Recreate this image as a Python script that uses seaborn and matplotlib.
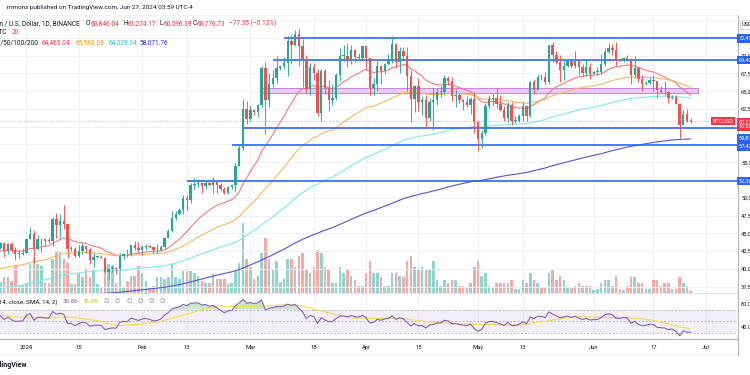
import numpy as np
import pandas as pd
import matplotlib
matplotlib.use("Agg")
import matplotlib.pyplot as plt
import matplotlib.transforms as mtransforms
from matplotlib.patches import Rectangle
from matplotlib.lines import Line2D
import seaborn as sns

sns.set_theme(style="white")
plt.rcParams["font.family"] = ["Roboto", "DejaVu Sans"]

# ---------------- data ----------------
start_date = "2023-12-25"
first_open = 42990.0

closes = [
    43580, 42520, 43440, 42580, 42070, 42140, 42280,
    44180, 44950, 42850, 44150, 44160, 43970, 43930, 46970, 46120, 46660,
    46340, 42780, 42840, 41730, 42510, 43150, 42740, 41260, 41620, 41660,
    41580, 39570, 39900, 40080, 39930, 41820, 42120, 42030, 43300, 42940, 42580,
    43080, 43190, 43000, 42580, 42700, 43090, 44340, 45290, 47130, 47750,
    48290, 49960, 49700, 51810, 51930, 52140, 51660, 52120, 51780, 52280,
    51840, 51300, 50730, 51570, 51730, 54480, 57040, 62430, 61130,
    62390, 62030, 63130, 68250, 63720, 66070, 66810, 68300, 68500, 69000,
    72120, 71480, 73080, 71390, 69500, 65300, 68390, 67550, 61910, 67910,
    65490, 63780, 64060, 67230, 69960, 69990, 69450, 70740, 69890, 69650, 71330,
    69700, 65460, 65960, 68500, 67840, 68900, 69360, 71620, 69150, 70630,
    70000, 67110, 63900, 65740, 63420, 63790, 61280, 63470, 63820, 64940,
    64940, 66840, 66410, 64280, 64500, 63770, 63460, 63120, 63840, 60640,
    58250, 59120, 62890, 63890, 64030, 63160, 62310, 61190, 63070, 60790,
    60800, 61450, 62900, 61550, 66250, 65230, 67050, 66940, 66270, 71450,
    70140, 69120, 67930, 68530, 69280, 68500, 69390, 68360, 67630, 68350, 67490,
    67710, 67750, 68800, 70570, 71080, 70790, 69360, 69310, 69650, 69510,
    67320, 68240, 66750, 66010, 66190, 66640, 66490, 65140, 64960, 64830,
    64100, 64260, 63180, 60280, 61800, 60846.04, 60776.73,
]
highs = [
    43800, 43600, 43680, 43790, 43120, 42600, 42900,
    44200, 45900, 45500, 44770, 44340, 44190, 44490, 47250, 47890, 47700,
    48970, 46500, 43260, 43070, 43400, 43580, 43200, 42930, 42200, 41870,
    41880, 41700, 40140, 40550, 40280, 42230, 42200, 42840, 43320, 43880, 43740,
    43290, 43480, 43380, 43120, 43530, 43400, 44500, 45600, 48200, 48170,
    48590, 50330, 50370, 52040, 52820, 52580, 52230, 52400, 52490, 52980,
    52370, 52040, 51550, 51700, 51950, 54910, 57590, 63930, 63680,
    63120, 62480, 63230, 68530, 69170, 67640, 67980, 69900, 68670, 69850,
    72800, 72950, 73650, 73780, 72420, 70050, 68920, 68930, 68100, 68100,
    68200, 66650, 65970, 67620, 71150, 71560, 71730, 71550, 70910, 70330, 71370,
    71340, 69700, 66910, 69290, 68720, 69000, 70280, 72720, 71750, 71170,
    71260, 71230, 67930, 65840, 66870, 64360, 64470, 64100, 65450, 65400,
    65700, 67230, 67200, 67070, 65270, 64800, 63920, 64360, 64220, 64750,
    60780, 59600, 63320, 64500, 64650, 65500, 64420, 62990, 63420, 63450,
    61500, 61820, 63450, 63100, 66440, 66700, 67450, 67400, 67700, 71520,
    71980, 70630, 70100, 69230, 69570, 69510, 70600, 69560, 68900, 69500, 69000,
    67860, 68400, 70280, 71060, 71760, 71620, 71990, 69580, 69850, 70150,
    69560, 69980, 68440, 67300, 66450, 66980, 67250, 66500, 65730, 66480,
    65070, 64520, 64500, 63370, 62290, 62480, 61274.17,
]
lows = [
    42720, 41650, 42100, 42300, 41300, 41520, 41960,
    42180, 44170, 40750, 42630, 42300, 43400, 43590, 43200, 44300, 44350,
    45600, 41500, 42430, 41720, 41720, 42050, 42200, 40680, 40280, 41450,
    41450, 39440, 38550, 39490, 39250, 39830, 41400, 41630, 41800, 42690, 42280,
    41880, 42580, 42880, 42220, 42260, 42570, 42790, 44330, 45240, 46800,
    47550, 47710, 48300, 49300, 51280, 51560, 50600, 51300, 51690, 50620,
    50630, 50890, 50520, 50570, 51270, 50900, 54420, 56700, 60360,
    60780, 61650, 61320, 62770, 59000, 62790, 65600, 66100, 68040, 68120,
    67190, 68850, 71330, 68560, 65600, 64780, 64530, 66600, 61500, 60770,
    64550, 62260, 63000, 63800, 66380, 69220, 68380, 68900, 69080, 69500, 69600,
    68130, 64490, 64500, 65060, 66000, 67440, 68700, 69040, 68210, 67520,
    69560, 65090, 60660, 62130, 62270, 61620, 59770, 60800, 59600, 63100,
    64230, 64500, 65810, 63600, 62790, 63330, 62400, 62810, 61800, 59100,
    56550, 56940, 58850, 62590, 62880, 62700, 62230, 60880, 60650, 60190,
    60490, 60630, 60750, 60830, 61330, 64600, 65110, 66600, 65860, 66060,
    69160, 68800, 66300, 66630, 68480, 68220, 68240, 67280, 67100, 67130, 66670,
    67390, 67250, 67610, 68560, 70380, 70120, 68500, 69200, 69150, 69230,
    66050, 66900, 66300, 65080, 65850, 66040, 65100, 64060, 64700, 64500,
    63380, 63950, 63180, 58400, 60230, 60720, 60596.39,
]
volumes = [
    20, 27, 27, 21, 47, 14, 14,
    17, 50, 61, 50, 47, 17, 17, 59, 73, 73, 59, 52, 15, 15, 35, 28, 44, 27,
    41, 15, 9, 41, 50, 47, 17, 56, 9, 21, 30, 30, 47,
    35, 21, 9, 12, 27, 27, 24, 27, 50, 27, 24, 38, 38, 38, 35, 30, 21, 17,
    17, 33, 24, 24, 24, 15, 17, 38, 53, 121, 59,
    45, 25, 30, 70, 95, 60, 40, 55, 20, 25, 60, 60, 45, 65, 70, 40, 35, 45,
    75, 70, 45, 40, 18, 18, 45, 35, 40, 30, 22, 13, 13,
    35, 55, 35, 35, 28, 13, 13, 35, 35, 30, 27, 55, 65, 45, 40, 45, 40, 40,
    55, 22, 13, 22, 18, 22, 22, 13, 13, 9, 18, 45,
    55, 30, 35, 13, 11, 18, 18, 18, 18, 22, 7, 7, 22, 18, 35, 22, 18, 9, 9,
    35, 40, 22, 30, 22, 9, 9, 13, 18, 13, 13, 13,
    5, 7, 18, 22, 22, 13, 30, 7, 6, 13, 27, 27, 18, 18, 7, 7, 22, 22, 13, 18,
    18, 7, 7, 27, 18, 13, 4,
]
# closes before the visible window (Nov 5 - Dec 24, 2023), used by the RSI
prior_closes = [
    35050, 35050, 35420, 35630, 36700, 37320, 37130, 37060, 36500, 35540,
    37880, 36160, 36600, 36570, 37360, 37450, 35750, 37420, 37290, 37720,
    37800, 37450, 37240, 37830, 37850, 37720,
    38690, 39470, 39980, 41990, 44080, 43770, 43290, 44170, 43720, 43790,
    41240, 41450, 42890, 43020, 41940, 42260, 41370, 42660, 42270, 43650,
    43870, 43990, 43740, 42990,
]
ema_lengths = [20, 50, 100, 200]
ema_seeds = [42400, 39900, 37000, 34300]          # EMA values on Dec 24, 2023
ema_legend = ["64,465.04", "65,580.08", "64,029.34", "58,071.76"]
ema_colors = ["#f7787c", "#ffb561", "#7fe8f5", "#5352dc"]
ema_text_colors = ["#f23645", "#ff9800", "#22c7dc", "#2d2dff"]

level_prices = [72450, 69400, 59870, 57420, 52360]
level_starts = ["2024-03-10", "2024-03-07", "2024-02-28", "2024-02-25", "2024-02-13"]
level_labels = ["72,450.00", "69,400.00", "59,870.00", "57,420.00", "52,360.00"]
level_label_shift = [0, 0, -10.5, -1.5, 0]       # px, label displacement on the axis
zone_low, zone_high = 64800, 65450
zone_start, zone_end = "2024-03-04", "2024-06-29"

rsi_legend = ["30.86", "36.88"]
tick_days = ["2024-01-01", "2024-01-15", "2024-02-01", "2024-02-13", "2024-03-01",
             "2024-03-18", "2024-04-01", "2024-04-15", "2024-05-01", "2024-05-13",
             "2024-06-01", "2024-06-17", "2024-07-01"]
tick_labels = ["2024", "15", "Feb", "13", "Mar", "18", "Apr", "15", "May", "13",
               "Jun", "17", "Jul"]
price_ticks = list(range(37500, 75001, 2500))
covered_ticks = [75000, 72500, 60000, 57500, 52500]   # hidden behind axis labels

# ---------------- derived ----------------
ref = pd.Timestamp("2024-01-01")
def dnum(s):
    return (pd.Timestamp(s) - ref).days

N = len(closes)
dates = pd.date_range(start_date, periods=N, freq="D")
days = np.asarray((dates - ref).days, dtype=float)
c = np.array(closes, float)
o = np.concatenate([[first_open], c[:-1]])
h = np.array(highs, float)
l = np.array(lows, float)
v = np.array(volumes, float)
up = c >= o

def ema(vals, n, seed):
    a = 2.0 / (n + 1)
    e = seed
    out = []
    for x in vals:
        e = a * x + (1 - a) * e
        out.append(e)
    return np.array(out)

def rma(x, n):
    out = np.full(len(x), np.nan)
    out[n - 1] = x[:n].mean()
    for i in range(n, len(x)):
        out[i] = (out[i - 1] * (n - 1) + x[i]) / n
    return out

allc = np.array(prior_closes + closes, float)
ch = np.diff(allc)
g = np.clip(ch, 0, None)
ls_ = np.clip(-ch, 0, None)
rsi_all = 100 - 100 / (1 + rma(g, 14) / rma(ls_, 14))
rsi_sma_all = pd.Series(rsi_all).rolling(14).mean().values
rsi = rsi_all[-N:]
rsi_sma = rsi_sma_all[-N:]

df = pd.DataFrame({"day": days, "close": c})
for n, s in zip(ema_lengths, ema_seeds):
    df[f"ema{n}"] = ema(c, n, s)
df["rsi"] = rsi
df["rsi_sma"] = rsi_sma

# ---------------- figure ----------------
W, H = 750, 375
fig = plt.figure(figsize=(7.5, 3.75), dpi=100)
fig.patch.set_facecolor("white")

def fx(px):
    return px / W
def fy(py):
    return 1 - py / H

XL = (-7.1, 190.4)
PR = 737
ax = fig.add_axes([0, fy(293), fx(PR), (293 - 15) / H])
ax_v = ax.twinx()
ax.set_zorder(2)
ax_v.set_zorder(1)
ax.patch.set_visible(False)
ax_v.patch.set_facecolor("white")

ax.set_xlim(*XL)
ax.set_ylim(36585, 75739)
ax_v.set_ylim(0, 278 / 0.575)
ax_v.set_yticks([])

grid_c = "#eef1f7"
tdays = [dnum(t) for t in tick_days]
for t in tdays:
    ax_v.axvline(t, color=grid_c, lw=0.7, zorder=0)
for p in price_ticks:
    ax.axhline(p, color=grid_c, lw=0.7, zorder=0)

up_c, dn_c = "#26a69a", "#ef5350"
vol_cols = np.where(up, "#92d3cd", "#f7a9a7")
ax_v.bar(days, v, width=0.68, color=vol_cols, lw=0)

# zone rectangle
ax.add_patch(Rectangle((dnum(zone_start), zone_low), dnum(zone_end) - dnum(zone_start),
                       zone_high - zone_low, facecolor="#e8c6ee", edgecolor="#c27ad0",
                       lw=0.8, alpha=0.85, zorder=1))

# EMAs
for n, col in zip(ema_lengths, ema_colors):
    sns.lineplot(data=df, x="day", y=f"ema{n}", ax=ax, color=col, lw=0.8,
                 legend=False, zorder=2, estimator=None, sort=False)

# horizontal levels
for p, s in zip(level_prices, level_starts):
    ax.hlines(p, dnum(s), XL[1], color="#2962ff", lw=1.3, alpha=0.9, zorder=3)

# current price dotted line
ax.axhline(c[-1], color=dn_c, lw=0.6, ls=(0, (1.5, 2)), alpha=0.55, zorder=3)

# candles
cols = np.where(up, up_c, dn_c)
ax.vlines(days, l, h, colors=cols, lw=0.65, zorder=4)
body = np.maximum(np.abs(c - o), 110)
ax.bar(days, body, bottom=np.minimum(o, c), width=0.64, color=cols, lw=0, zorder=5)

for a in (ax, ax_v):
    for sp in ("top", "left", "bottom", "right"):
        a.spines[sp].set_visible(False)
ax.set_xticks([])
ax_v.set_xticks([])
ax.set_xlabel("")
ax.set_ylabel("")
ax_v.set_ylabel("")
ax.yaxis.tick_right()
ax.set_yticks(price_ticks)
ax.set_yticklabels(["" if p in covered_ticks else f"{p:,.2f}" for p in price_ticks])
ax.tick_params(axis="y", which="both", length=0, pad=2.9, labelsize=4.1,
               labelcolor="#131722", left=False, right=True, labelleft=False,
               labelright=True)

# level labels on price axis
btr = mtransforms.blended_transform_factory(ax.transAxes, ax.transData)
for p, lab, sh in zip(level_prices, level_labels, level_label_shift):
    tr = mtransforms.offset_copy(btr, fig=fig, x=0, y=sh, units="dots")
    ax.text(1 + 1.5 / PR, p, lab, transform=tr, ha="left", va="center",
            fontsize=4.0, color="white", clip_on=False, zorder=20,
            bbox=dict(boxstyle="square,pad=0.3", fc="#2962ff", ec="none"))
tr = mtransforms.offset_copy(btr, fig=fig, x=0, y=-3.0, units="dots")
ax.text(1 + 1.5 / PR, c[-1], "60,776.73\n16:00:53", transform=tr, ha="left",
        va="center", fontsize=4.0, color="white", clip_on=False, zorder=21,
        linespacing=1.0, bbox=dict(boxstyle="square,pad=0.25", fc="#f23645", ec="none"))
ax.text(0.995, c[-1], "BTCUSD", transform=btr, ha="right", va="center",
        fontsize=4.0, color="white", zorder=21,
        bbox=dict(boxstyle="square,pad=0.3", fc="#f23645", ec="none"))
fig.text(fx(741.5), fy(24.5), "USD", fontsize=4.1, color="#131722", ha="left",
         va="center", bbox=dict(boxstyle="square,pad=0.3", fc="white", ec="#d1d4dc", lw=0.6))

# ---------------- RSI pane ----------------
ax_r = fig.add_axes([0, fy(339), fx(PR), (339 - 293) / H])
ax_r.set_xlim(*XL)
ax_r.set_ylim(20.2, 98.1)
for t in tdays:
    ax_r.axvline(t, color=grid_c, lw=0.7, zorder=0)
ax_r.axhspan(30, 70, color="#7e57c2", alpha=0.09, lw=0, zorder=1)
for lv in (70, 50, 30):
    ax_r.axhline(lv, color="#9598a1", lw=0.6, ls=(0, (2.2, 2.2)), alpha=0.75, zorder=2)
ax_r.fill_between(days, rsi, 70, where=rsi > 70, interpolate=True,
                  color="#66bb6a", alpha=0.35, lw=0, zorder=2)
ax_r.fill_between(days, rsi, 30, where=rsi < 30, interpolate=True,
                  color="#ef5350", alpha=0.35, lw=0, zorder=2)
sns.lineplot(data=df, x="day", y="rsi_sma", ax=ax_r, color="#f2dc4e", lw=0.8,
             legend=False, zorder=3, estimator=None, sort=False)
sns.lineplot(data=df, x="day", y="rsi", ax=ax_r, color="#7e57c2", lw=0.75,
             legend=False, zorder=4, estimator=None, sort=False)
ax_r.set_xlabel("")
ax_r.set_ylabel("")
ax_r.spines["left"].set_visible(False)
ax_r.spines["right"].set_visible(False)
ax_r.spines["top"].set_color("#e0e3eb")
ax_r.spines["top"].set_linewidth(0.8)
ax_r.spines["bottom"].set_color("#b2b5be")
ax_r.spines["bottom"].set_linewidth(0.8)
ax_r.yaxis.tick_right()
ax_r.set_yticks([40, 80])
ax_r.set_yticklabels(["40.00", "80.00"])
ax_r.tick_params(axis="y", length=0, pad=2.9, labelsize=4.1, labelcolor="#131722")
ax_r.set_xticks(tdays)
ax_r.set_xticklabels(tick_labels)
ax_r.tick_params(axis="x", length=0, pad=4.2, labelsize=4.2, labelcolor="#131722")

# axis frame lines
fig.add_artist(Line2D([fx(PR + 0.5)] * 2, [fy(15), fy(355)], color="#b2b5be", lw=0.8))
fig.add_artist(Line2D([0, fx(PR)], [fy(355), fy(355)], color="#eceef3", lw=0.6))
fig.add_artist(Line2D([0, fx(PR)], [fy(15), fy(15)], color="#eef1f7", lw=0.6))

# ---------------- texts ----------------
dark = "#131722"
red = "#f23645"
fs_leg = 4.7
fig.text(fx(193), fy(8), "mmons published on TradingView.com, Jun 27, 2024 03:59 UTC-4",
         ha="right", va="center", fontsize=4.6, color=dark)
y2 = fy(23.5)
fig.text(fx(79.5), y2, "Bitcoin / U.S. Dollar, 1D, BINANCE", ha="right", va="center",
         fontsize=fs_leg, color=dark)
for xl, lab, xv, val in [(86, "O", 90.5, "60,846.04"), (123.3, "H", 127.3, "61,274.17"),
                         (160, "L", 163.8, "60,596.39"), (192.7, "C", 196.8, "60,776.73")]:
    fig.text(fx(xl), y2, lab, ha="left", va="center", fontsize=fs_leg, color=dark)
    fig.text(fx(xv), y2, val, ha="left", va="center", fontsize=fs_leg, color=red)
fig.text(fx(229), y2, "\u221277.35 (\u22120.13%)", ha="left", va="center",
         fontsize=fs_leg, color=red)
y3 = fy(33)
fig.text(fx(7), y3, "Vol \u00b7 BTC", ha="right", va="center", fontsize=fs_leg, color=dark)
fig.text(fx(11.5), y3, "20", ha="left", va="center", fontsize=fs_leg, color=red)
y4 = fy(43)
fig.text(fx(38.5), y4, "EMA 20/50/100/200", ha="right", va="center", fontsize=fs_leg, color=dark)
for xv, val, col in zip([41.7, 76, 109, 139.5], ema_legend, ema_text_colors):
    fig.text(fx(xv), y4, val, ha="left", va="center", fontsize=fs_leg, color=col)

yr = fy(301.7)
fig.text(fx(58), yr, "RSI (14, close, SMA, 14, 2)", ha="right", va="center",
         fontsize=4.5, color=dark)
fig.text(fx(62.5), yr, rsi_legend[0], ha="left", va="center", fontsize=4.5, color="#7e57c2")
fig.text(fx(83), yr, rsi_legend[1], ha="left", va="center", fontsize=4.5, color="#e0bf16")
for xv in [104, 115, 126.5, 137.5, 149, 160]:
    fig.text(fx(xv), yr, "\u2205", ha="left", va="center", fontsize=4.5, color="#787b86")

fig.text(fx(27), fy(365), "TradingView", ha="right", va="center", fontsize=5.0,
         color=dark, fontweight="bold")

fig.savefig("out.png", dpi=100, facecolor="white")
